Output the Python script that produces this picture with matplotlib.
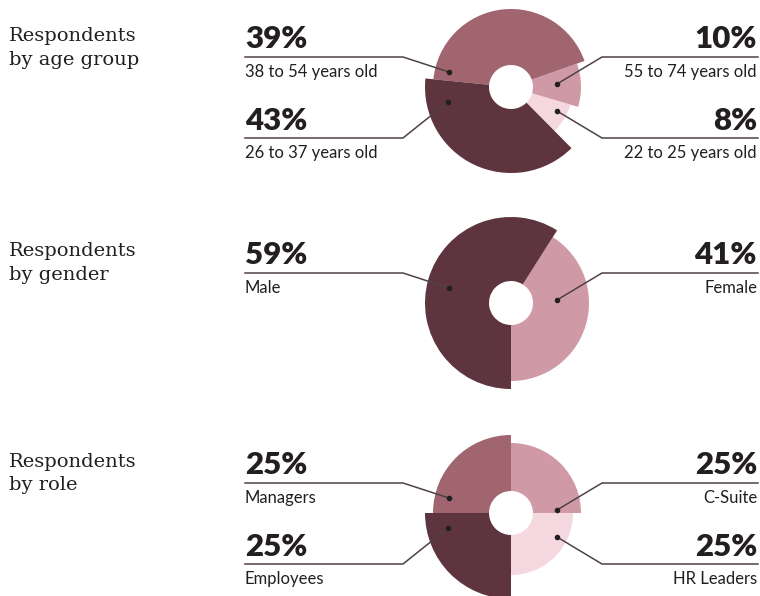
import matplotlib.pyplot as plt
from matplotlib.patches import Wedge

# colours, darkest to palest
dark, medium, pink, pale = "#5e343f", "#a0656f", "#cf9aa6", "#f5d8df"
ink = "#231f20"
line_col = "#4f4246"

# age group (slices listed counter-clockwise, palest first)
age_groups = ["22 to 25 years old", "55 to 74 years old", "38 to 54 years old", "26 to 37 years old"]
age_pct = [8, 10, 39, 43]
age_arc = [8, 10, 43, 39]   # arc sizes as drawn in the original
age_slots = ["RL", "RU", "LU", "LL"]

# gender
genders = ["Female", "Male"]
gender_pct = [41, 59]
gender_arc = [41, 59]
gender_slots = ["RU", "LU"]

# role
roles = ["HR Leaders", "C-Suite", "Managers", "Employees"]
role_pct = [25, 25, 25, 25]
role_arc = [25, 25, 25, 25]
role_slots = ["RL", "RU", "LU", "LL"]

charts = [
    ("by age group", age_groups, age_pct, age_arc, age_slots,
     [pale, pink, medium, dark], [62, 70, 78, 86], -45.3, 87, (41, 65)),
    ("by gender", genders, gender_pct, gender_arc, gender_slots,
     [pink, dark], [78, 86], -90, 303, (256, 280)),
    ("by role", roles, role_pct, role_arc, role_slots,
     [pale, pink, medium, dark], [62, 70, 78, 86], -90, 513, (467, 490)),
]

W, H = 760, 596
fig = plt.figure(figsize=(W / 100, H / 100), dpi=100)
ax = fig.add_axes([0, 0, 1, 1])
ax.set_xlim(0, W)
ax.set_ylim(H, 0)
ax.set_aspect("equal")
ax.axis("off")

cx = 511
hole = 22
# line y offset and dot offset from the centre for each label slot
slot_line = {"LU": -30, "LL": 51, "RU": -30, "RL": 51}
slot_dot = {"LU": (-62, -15), "LL": (-63, 15), "RU": (46, -3), "RL": (46, 24)}

for title, names, pcts, arcs, slots, cols, radii, start, cy, tb in charts:
    ax.text(9, tb[0], "Respondents", family="DejaVu Serif", fontsize=14,
            color=ink, va="baseline")
    ax.text(9, tb[1], title, family="DejaVu Serif", fontsize=14,
            color=ink, va="baseline")

    a = start
    total = sum(arcs)
    for arc, c, r in zip(arcs, cols, radii):
        b = a + 360 * arc / total
        # y axis is inverted, so screen angles are mirrored
        ax.add_patch(Wedge((cx, cy), r, -b, -a, width=r - hole, facecolor=c,
                           edgecolor="none"))
        a = b

    for name, p, s in zip(names, pcts, slots):
        ly = cy + slot_line[s]
        dx, dy = slot_dot[s]
        px, py = cx + dx, cy + dy
        if s[0] == "L":
            ax.plot([245, 403, px], [ly, ly, py], color=line_col, lw=1.1,
                    solid_joinstyle="miter")
            tx, ha = 245, "left"
        else:
            ax.plot([758, 602, px], [ly, ly, py], color=line_col, lw=1.1,
                    solid_joinstyle="miter")
            tx, ha = 757, "right"
        ax.plot(px, py, "o", ms=3, color=ink)
        ax.text(tx, ly - 8.5, f"{p}%", family="Lato", fontweight="heavy",
                fontsize=22.5, color=ink, ha=ha, va="baseline")
        ax.text(tx, ly + 20, name, family="Lato", fontsize=12,
                color=ink, ha=ha, va="baseline")

fig.savefig("out.png", dpi=100)
